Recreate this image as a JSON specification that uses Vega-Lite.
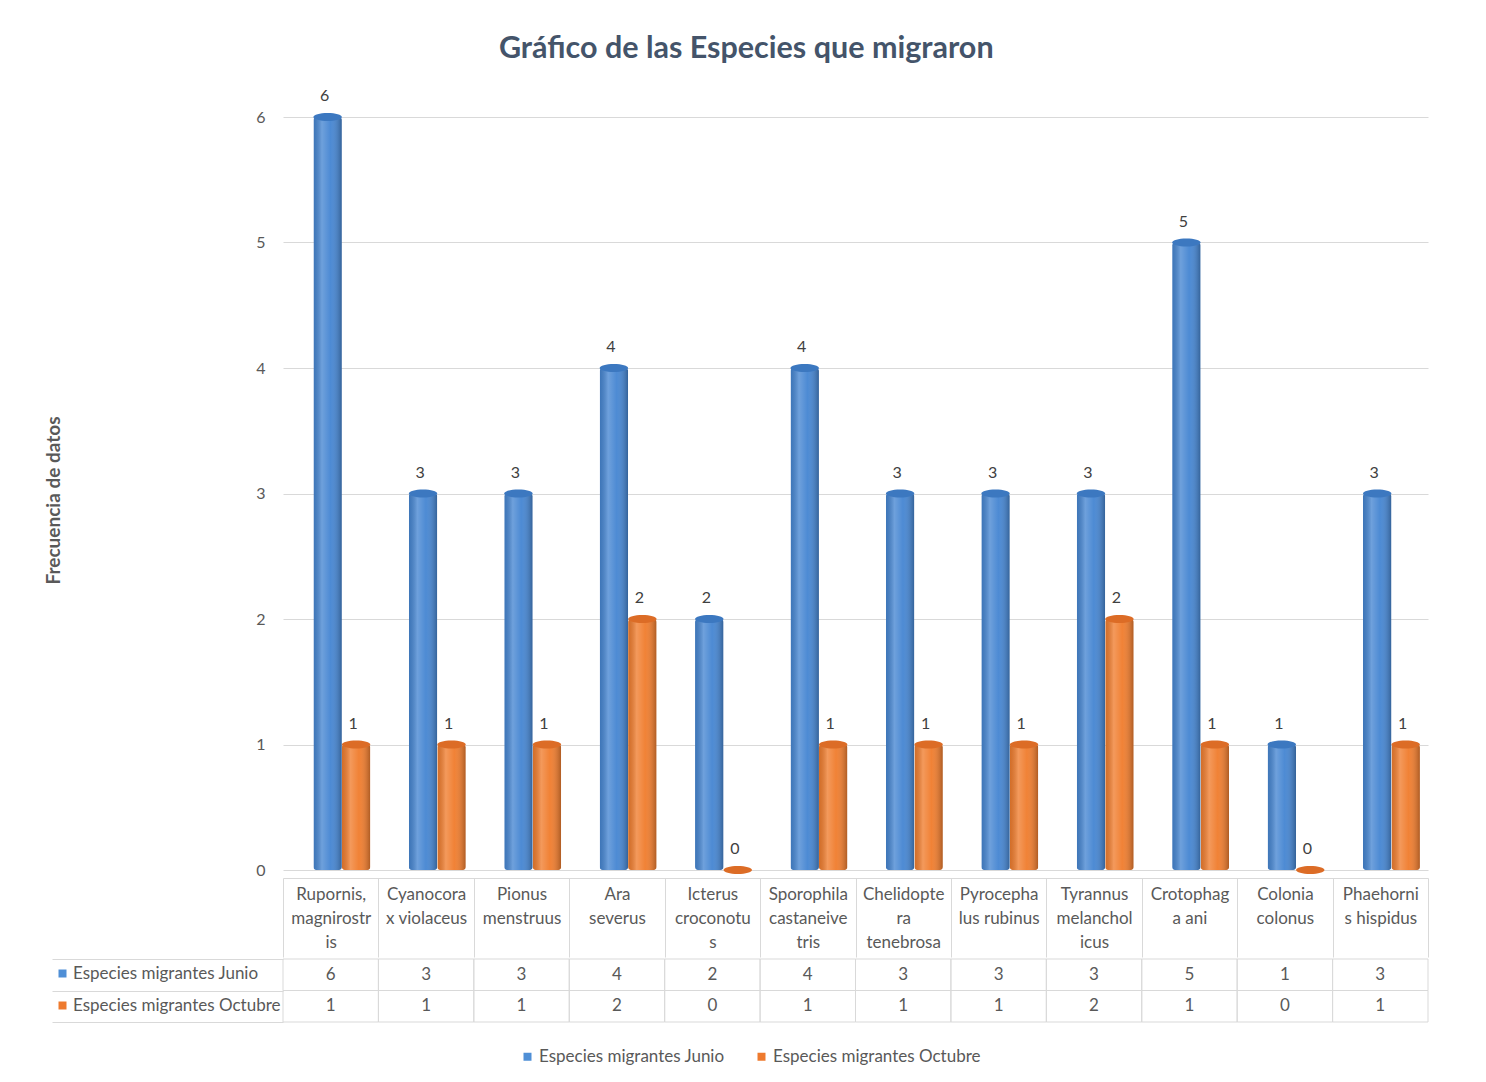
{
  "$schema": "https://vega.github.io/schema/vega-lite/v6.json",
  "autosize": {"type": "pad"},
  "padding": {"left": 44, "top": 33, "right": 40, "bottom": 10},
  "background": "white",
  "title": {
    "text": "Gráfico de las Especies que migraron",
    "font": "Lato",
    "fontSize": 30.5,
    "fontWeight": "bold",
    "color": "#44546a",
    "anchor": "middle",
    "frame": "bounds",
    "offset": 24,
    "dx": 10
  },
  "config": {"view": {"stroke": null}, "font": "Lato"},
  "data": {
    "values": [
      {"especie": "Rupornis,|magnirostr|is", "serie": "Especies migrantes Junio", "valor": 6},
      {"especie": "Rupornis,|magnirostr|is", "serie": "Especies migrantes Octubre", "valor": 1},
      {"especie": "Cyanocora|x violaceus", "serie": "Especies migrantes Junio", "valor": 3},
      {"especie": "Cyanocora|x violaceus", "serie": "Especies migrantes Octubre", "valor": 1},
      {"especie": "Pionus|menstruus", "serie": "Especies migrantes Junio", "valor": 3},
      {"especie": "Pionus|menstruus", "serie": "Especies migrantes Octubre", "valor": 1},
      {"especie": "Ara|severus", "serie": "Especies migrantes Junio", "valor": 4},
      {"especie": "Ara|severus", "serie": "Especies migrantes Octubre", "valor": 2},
      {"especie": "Icterus|croconotu|s", "serie": "Especies migrantes Junio", "valor": 2},
      {"especie": "Icterus|croconotu|s", "serie": "Especies migrantes Octubre", "valor": 0},
      {"especie": "Sporophila|castaneive|tris", "serie": "Especies migrantes Junio", "valor": 4},
      {"especie": "Sporophila|castaneive|tris", "serie": "Especies migrantes Octubre", "valor": 1},
      {"especie": "Chelidopte|ra|tenebrosa", "serie": "Especies migrantes Junio", "valor": 3},
      {"especie": "Chelidopte|ra|tenebrosa", "serie": "Especies migrantes Octubre", "valor": 1},
      {"especie": "Pyrocepha|lus rubinus", "serie": "Especies migrantes Junio", "valor": 3},
      {"especie": "Pyrocepha|lus rubinus", "serie": "Especies migrantes Octubre", "valor": 1},
      {"especie": "Tyrannus|melanchol|icus", "serie": "Especies migrantes Junio", "valor": 3},
      {"especie": "Tyrannus|melanchol|icus", "serie": "Especies migrantes Octubre", "valor": 2},
      {"especie": "Crotophag|a ani", "serie": "Especies migrantes Junio", "valor": 5},
      {"especie": "Crotophag|a ani", "serie": "Especies migrantes Octubre", "valor": 1},
      {"especie": "Colonia|colonus", "serie": "Especies migrantes Junio", "valor": 1},
      {"especie": "Colonia|colonus", "serie": "Especies migrantes Octubre", "valor": 0},
      {"especie": "Phaehorni|s hispidus", "serie": "Especies migrantes Junio", "valor": 3},
      {"especie": "Phaehorni|s hispidus", "serie": "Especies migrantes Octubre", "valor": 1}
    ]
  },
  "resolve": {
    "scale": {"x": "independent", "y": "independent", "color": "independent"},
    "legend": {"color": "independent"}
  },
  "spacing": 0,
  "vconcat": [
    {
      "width": 1145,
      "height": 753,
      "encoding": {
        "x": {
          "field": "especie",
          "type": "nominal",
          "sort": null,
          "scale": {"paddingInner": 0, "paddingOuter": 0},
          "axis": {
            "orient": "bottom",
            "offset": 8,
            "title": null,
            "labelAngle": 0,
            "labelExpr": "split(datum.label, '|')",
            "labelFontSize": 17,
            "labelColor": "#595959",
            "labelLineHeight": 24,
            "labelBaseline": "top",
            "labelPadding": -71,
            "labelLimit": 200,
            "labelOverlap": false,
            "tickBand": "extent",
            "tickSize": 79,
            "tickColor": "#d9d9d9",
            "domainColor": "#d9d9d9",
            "grid": false
          }
        },
        "xOffset": {
          "field": "serie",
          "type": "nominal",
          "sort": ["Especies migrantes Junio", "Especies migrantes Octubre"],
          "scale": {"paddingInner": 0, "paddingOuter": 0.675, "align": 0.79}
        },
        "y": {
          "field": "valor",
          "type": "quantitative",
          "scale": {"domain": [0, 6]},
          "axis": {
            "values": [0, 1, 2, 3, 4, 5, 6],
            "title": "Frecuencia de datos",
            "titleX": -220,
            "titleY": 383,
            "titleFontSize": 19,
            "titleFontWeight": "bold",
            "titleColor": "#595959",
            "labelFontSize": 16,
            "labelColor": "#595959",
            "labelPadding": 18,
            "ticks": false,
            "domain": false,
            "grid": true,
            "gridColor": "#d9d9d9"
          }
        }
      },
      "layer": [
        {
          "mark": {"type": "bar", "cornerRadius": 3},
          "encoding": {
            "color": {
              "field": "serie",
              "type": "nominal",
              "scale": {
                "domain": ["Especies migrantes Junio", "Especies migrantes Octubre"],
                "range": ["#4686d2", "#f07d2e"]
              },
              "legend": null
            }
          }
        },
        {
          "mark": {
            "type": "bar",
            "cornerRadius": 3,
            "fill": {
              "gradient": "linear",
              "x1": 0, "x2": 1, "y1": 0, "y2": 0,
              "stops": [
                {"offset": 0, "color": "rgba(0,0,0,0.12)"},
                {"offset": 0.3, "color": "rgba(255,255,255,0.22)"},
                {"offset": 0.6, "color": "rgba(255,255,255,0.04)"},
                {"offset": 1, "color": "rgba(0,0,0,0.28)"}
              ]
            }
          }
        },
        {
          "mark": {
            "type": "point",
            "shape": "M -1 0 A 1 0.28 0 1 0 1 0 A 1 0.28 0 1 0 -1 0 Z",
            "size": 810,
            "filled": true,
            "opacity": 1,
            "strokeWidth": 0
          },
          "encoding": {
            "fill": {
              "field": "serie",
              "type": "nominal",
              "scale": {
                "domain": ["Especies migrantes Junio", "Especies migrantes Octubre"],
                "range": ["#3c78c0", "#dc6c26"]
              },
              "legend": null
            }
          }
        },
        {
          "mark": {"type": "text", "fontSize": 16, "color": "#404040", "baseline": "bottom", "dy": -13, "dx": -3},
          "encoding": {"text": {"field": "valor", "type": "quantitative"}}
        }
      ]
    },
    {
      "width": 1145,
      "height": 63,
      "encoding": {
        "x": {
          "field": "especie",
          "type": "nominal",
          "sort": null,
          "scale": {"paddingInner": 0, "paddingOuter": 0},
          "axis": null
        },
        "y": {
          "field": "serie",
          "type": "nominal",
          "sort": ["Especies migrantes Junio", "Especies migrantes Octubre"],
          "scale": {"paddingInner": 0, "paddingOuter": 0},
          "axis": {
            "title": null,
            "labels": false,
            "tickBand": "extent",
            "tickSize": 231,
            "tickColor": "#d9d9d9",
            "domain": false,
            "grid": false
          }
        }
      },
      "layer": [
        {"mark": {"type": "rect", "fill": "transparent", "stroke": "#d9d9d9", "strokeWidth": 1}},
        {
          "mark": {"type": "text", "fontSize": 17, "color": "#595959"},
          "encoding": {"text": {"field": "valor", "type": "quantitative"}}
        },
        {
          "mark": {"type": "point", "size": 0, "filled": true, "shape": "square"},
          "encoding": {
            "color": {
              "field": "serie",
              "type": "nominal",
              "scale": {
                "domain": ["Especies migrantes Junio", "Especies migrantes Octubre"],
                "range": ["#4f8fd6", "#ee7a2e"]
              },
              "legend": {
                "orient": "none",
                "legendX": -229,
                "legendY": 6,
                "title": null,
                "symbolType": "square",
                "symbolSize": 64,
                "symbolOpacity": 1,
                "symbolStrokeWidth": 0,
                "labelFontSize": 17,
                "labelColor": "#595959",
                "labelOffset": 2,
                "labelLimit": 300,
                "rowPadding": 14
              }
            }
          }
        }
      ]
    },
    {
      "width": 1145,
      "height": 1,
      "mark": {"type": "point", "size": 0, "filled": true, "shape": "square"},
      "encoding": {
        "color": {
          "field": "serie",
          "type": "nominal",
          "scale": {
            "domain": ["Especies migrantes Junio", "Especies migrantes Octubre"],
            "range": ["#4f8fd6", "#ee7a2e"]
          },
          "legend": {
            "orient": "none",
            "direction": "horizontal",
            "legendX": 236,
            "legendY": 25,
            "title": null,
            "symbolType": "square",
            "symbolSize": 64,
            "symbolOpacity": 1,
            "symbolStrokeWidth": 0,
            "labelFontSize": 17,
            "labelColor": "#595959",
            "labelOffset": 3,
            "labelLimit": 300,
            "columnPadding": 28
          }
        }
      }
    }
  ]
}
